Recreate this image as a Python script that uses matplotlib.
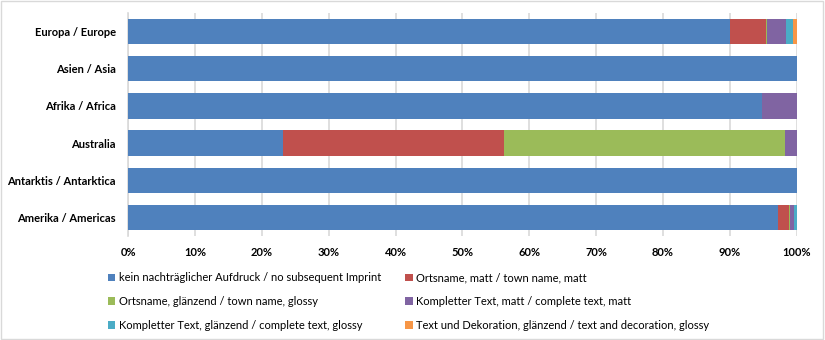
import matplotlib.pyplot as plt
import numpy as np
from matplotlib.patches import Rectangle

plt.rcParams['font.family'] = ['Lato', 'DejaVu Sans']

regions = ['Europa / Europe', 'Asien / Asia', 'Afrika / Africa', 'Australia',
           'Antarktis / Antarktica', 'Amerika / Americas']
series_names = ['kein nachträglicher Aufdruck / no subsequent Imprint',
                'Ortsname, matt / town name, matt',
                'Ortsname, glänzend / town name, glossy',
                'Kompletter Text, matt / complete text, matt',
                'Kompletter Text, glänzend / complete text, glossy',
                'Text und Dekoration, glänzend / text and decoration, glossy']
colors = ['#4F81BD', '#C0504D', '#9BBB59', '#8064A2', '#4BACC6', '#F79646']

# shares in % per region (order as in regions)
no_imprint = [90.0, 100.0, 94.8, 23.2, 100.0, 97.15]
town_matt = [5.35, 0.0, 0.0, 33.0, 0.0, 1.7]
town_glossy = [0.15, 0.0, 0.0, 42.05, 0.0, 0.2]
text_matt = [2.9, 0.0, 5.2, 1.75, 0.0, 0.55]
text_glossy = [1.05, 0.0, 0.0, 0.0, 0.0, 0.4]
text_deco = [0.55, 0.0, 0.0, 0.0, 0.0, 0.0]

series = [no_imprint, town_matt, town_glossy, text_matt, text_glossy, text_deco]
xticks = np.arange(0, 101, 10)

fig = plt.figure(figsize=(8.25, 3.4), dpi=100)
ax = fig.add_axes([0.1555, 1 - 236 / 340, 0.8102, (236 - 13) / 340])

y = np.arange(len(regions))
left = np.zeros(len(regions))
handles = []
for vals, name, c in zip(series, series_names, colors):
    vals = np.array(vals)
    h = ax.barh(y, vals, left=left, height=0.68, color=c, label=name, zorder=3)
    handles.append(h)
    left += vals

ax.set_xlim(0, 100)
ax.set_ylim(len(regions) - 0.5, -0.5)
ax.set_xticks(xticks)
ax.set_xticklabels([f'{t}%' for t in xticks], fontsize=8, fontweight='bold')
ax.set_yticks(y)
ax.set_yticklabels(regions, fontsize=8, fontweight='bold')
ax.tick_params(axis='x', length=0, pad=8)
ax.tick_params(axis='y', length=0, pad=9)
ax.xaxis.grid(True, color='#D9D9D9', linewidth=1.2, zorder=0)
for s in ['top', 'right', 'bottom']:
    ax.spines[s].set_visible(False)
ax.spines['left'].set_color('#D9D9D9')
ax.spines['left'].set_linewidth(1.2)

# legend: row-major in the picture, matplotlib fills columns first
order = [0, 2, 4, 1, 3, 5]
leg = fig.legend([handles[i] for i in order], [series_names[i] for i in order],
                 ncol=2, loc='upper left', bbox_to_anchor=(0.125, 0.212),
                 frameon=False, fontsize=8, handlelength=0.7, handleheight=0.7,
                 handletextpad=0.35, columnspacing=2.1, labelspacing=1.15,
                 borderaxespad=0)

fig.patches.append(Rectangle((0.001, 0.002), 0.997, 0.995, transform=fig.transFigure,
                             fill=False, edgecolor='#D9D9D9', linewidth=1))

fig.savefig('out.png', dpi=100)
